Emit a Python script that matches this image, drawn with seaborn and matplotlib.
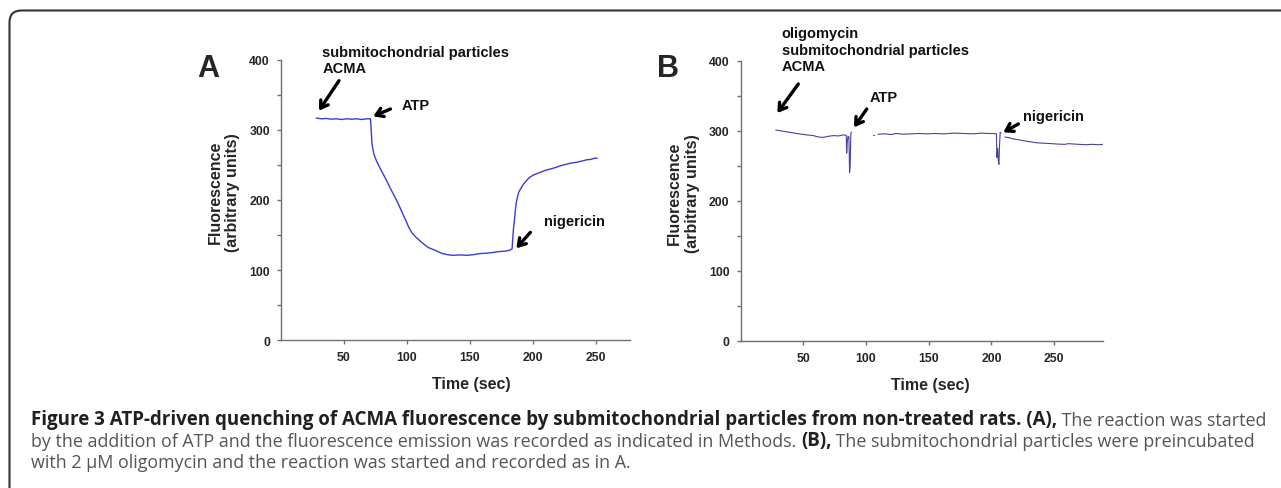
import numpy as np
import pandas as pd
import seaborn as sns
import matplotlib.pyplot as plt
import matplotlib.transforms as mtransforms
from matplotlib.patches import FancyBboxPatch

# ---- data ----
# panel A: ATP-driven quenching
time_a = [28, 32, 36, 40, 44, 48, 52, 56, 60, 64, 68, 71, 71.6, 72.2, 73.8,
          76, 79, 82, 84.3, 87, 89.6, 93, 96.2, 99, 101.4, 104, 107, 110.7,
          114, 117, 121.2, 125, 128, 131.8, 136, 142.4, 148, 153, 158.2, 163,
          168, 174.1, 178, 181, 183.4, 184.1, 184.6, 185.2, 186, 186.8, 188.6,
          190.5, 192.6, 196.5, 200, 205.8, 210, 216.3, 222, 229.6, 235, 242.8,
          246, 249.4, 251]
fluor_a = [317, 316, 316.5, 315.5, 316, 315, 316, 315.5, 316, 315, 316, 316, 300, 280, 265,
           255, 244, 234, 226, 216, 207, 195, 182, 171, 161, 153, 147, 141,
           136, 132, 129, 126, 123.5, 122, 121, 121.5, 121, 122, 123.5, 124,
           125, 126.5, 127, 128, 130, 149, 160, 170, 185, 197, 211,
           217, 223, 231, 235.5, 239.5, 242.5, 245.5, 249, 252.5, 254, 257.5,
           258, 260, 259.5]

# panel B: oligomycin pre-incubated, trace recorded in pieces
time_b1 = [28, 33, 39, 45, 52.7, 58, 62, 66, 70, 73.9, 78, 82, 84.2, 84.6, 85.0,
           85.6, 86.4, 86.9, 87.4, 87.9, 88.4]
fluor_b1 = [301, 299.5, 297.7, 296, 294, 293, 291, 290.5, 292, 293, 292.5, 294, 293.5, 268, 282,
            292, 291, 240, 250, 296, 298]
time_b2 = [105.3, 106.3]
fluor_b2 = [294, 294]
time_b3 = [109.5, 115, 120, 124, 130, 136, 142, 148, 155, 162, 170, 178, 185, 192,
           198, 202, 204, 204.4, 205, 205.5, 206, 206.5, 207, 207.5]
fluor_b3 = [295, 295.5, 294.5, 296, 295, 295.5, 296, 295.5, 296, 295.5, 296.5, 296, 295.5, 296.5,
            296, 296, 295.5, 262, 275, 257, 252, 280, 297.5, 297]
time_b4 = [210.8, 214, 218, 222, 225.4, 230, 235, 238.8, 244, 248, 252, 258, 262,
           265.3, 270, 275, 280, 285, 289]
fluor_b4 = [291, 290, 288, 287, 285.7, 284.5, 283, 282.4, 282, 281.5, 281, 280.5, 281.5,
            281, 280.5, 280, 280.5, 280, 280.5]

x_ticks = [50, 100, 150, 200, 250]
y_ticks = [0, 100, 200, 300, 400]
y_minor = [50, 150, 250, 350]

df_a = pd.DataFrame({'Time': time_a, 'Fluorescence': fluor_a})
df_b = pd.concat([
    pd.DataFrame({'Time': t, 'Fluorescence': f, 'seg': i})
    for i, (t, f) in enumerate([(time_b1, fluor_b1), (time_b2, fluor_b2),
                                (time_b3, fluor_b3), (time_b4, fluor_b4)])
], ignore_index=True)

# %%
sns.set_style("ticks")
plt.rcParams['font.family'] = ['Liberation Sans', 'DejaVu Sans']

fig = plt.figure(figsize=(12.81, 4.89), dpi=100)
ax_a = fig.add_axes([281 / 1281, 1 - 341 / 489, 349 / 1281, 280 / 489])
ax_b = fig.add_axes([740.6 / 1281, 1 - 341.7 / 489, 362.4 / 1281, 280 / 489])

sns.lineplot(data=df_a, x='Time', y='Fluorescence', ax=ax_a, estimator=None,
             sort=False, color='#3b3bd6', lw=1.0)
sns.lineplot(data=df_b, x='Time', y='Fluorescence', units='seg', ax=ax_b,
             estimator=None, sort=False, color='#45459e', lw=0.8)

for ax, xmax in [(ax_a, 277), (ax_b, 289)]:
    ax.set_xlim(0, xmax)
    ax.set_ylim(0, 400)
    ax.set_xticks(x_ticks)
    ax.set_yticks(y_ticks)
    ax.set_yticks(y_minor, minor=True)
    sns.despine(ax=ax)
    for s in ['left', 'bottom']:
        ax.spines[s].set_color('#707070')
        ax.spines[s].set_linewidth(1.0)
    ax.tick_params(axis='both', which='both', direction='out', length=3,
                   width=1, color='#707070', labelsize=8.8, pad=5)
    for lab in ax.get_xticklabels() + ax.get_yticklabels():
        lab.set_fontweight('bold')
    ax.set_xlabel('Time (sec)', fontsize=11.5, fontweight='bold')
    ax.set_ylabel('Fluorescence\n(arbitrary units)', fontsize=11.5,
                  fontweight='bold', linespacing=1.2)

ax_a.xaxis.set_label_coords(0.544, -0.13)
ax_b.xaxis.set_label_coords(0.523, -0.13)
ax_a.yaxis.set_label_coords(-0.118, 0.53)
ax_b.yaxis.set_label_coords(-0.113, 0.53)

arrow = dict(arrowstyle='->,head_length=0.5,head_width=0.32', lw=2.4,
             color='black', shrinkA=0, shrinkB=0)
ann_font = dict(fontsize=10.5, fontweight='bold', color='#111111')

# panel A notes
ax_a.text(32.8, 422, 'submitochondrial particles\nACMA', ha='left', va='top',
          linespacing=1.2, **ann_font)
ax_a.annotate('', xy=(30.1, 327.6), xytext=(46, 370.4), arrowprops=arrow,
              annotation_clip=False)
ax_a.text(95.6, 336, 'ATP', ha='left', va='center', **ann_font)
ax_a.annotate('', xy=(73.2, 319.6), xytext=(86.9, 330), arrowprops=arrow)
ax_a.text(208.4, 170, 'nigericin', ha='left', va='center', **ann_font)
ax_a.annotate('', xy=(186.8, 131), xytext=(197.9, 153.8), arrowprops=arrow)

# panel B notes
ax_b.text(32.8, 449, 'oligomycin\nsubmitochondrial particles\nACMA', ha='left',
          va='top', linespacing=1.2, **ann_font)
ax_b.annotate('', xy=(29.3, 325.3), xytext=(46, 366.7), arrowprops=arrow,
              annotation_clip=False)
ax_b.text(103.2, 347.7, 'ATP', ha='left', va='center', **ann_font)
ax_b.annotate('', xy=(90.4, 304.9), xytext=(100.6, 331), arrowprops=arrow)
ax_b.text(225.4, 321.4, 'nigericin', ha='left', va='center', **ann_font)
ax_b.annotate('', xy=(209.5, 297.7), xytext=(221.5, 309.6), arrowprops=arrow)

# panel letters
fig.text(197 / 1281, 1 - 77 / 489, 'A', fontsize=22, fontweight='bold', va='baseline')
fig.text(657 / 1281, 1 - 77 / 489, 'B', fontsize=22, fontweight='bold', va='baseline')

# rounded frame, cut by the right and bottom edges
frame = FancyBboxPatch((9.5, -30), 1320, 489 - 11.5 + 30,
                       boxstyle='round,pad=0,rounding_size=12',
                       transform=mtransforms.IdentityTransform(),
                       fill=False, ec='#333333', lw=1.5)
fig.add_artist(frame)

# caption: mixed bold / regular pieces chained on each line
cap = fig.add_axes([0, 0, 1, 1])
cap.axis('off')
cap.set_xlim(0, 1281)
cap.set_ylim(489, 0)
bold_c = '#231f20'
reg_c = '#555555'
cap_family = ['Open Sans', 'DejaVu Sans']
size_of = {'bold': 13.5, 'normal': 12.9}
lines = [
    [('Figure 3 ATP-driven quenching of ACMA fluorescence by submitochondrial particles '
      'from non-treated rats. (A),', 'bold'), (' The reaction was started', 'normal')],
    [('by the addition of ATP and the fluorescence emission was recorded as indicated in '
      'Methods. ', 'normal'), ('(B),', 'bold'),
     (' The submitochondrial particles were preincubated', 'normal')],
    [('with 2 \u00b5M oligomycin and the reaction was started and recorded as in A.', 'normal')],
]
baselines = [425, 446.7, 468.3]
for pieces, yb in zip(lines, baselines):
    prev = None
    for txt, w in pieces:
        col = bold_c if w == 'bold' else reg_c
        kw = dict(fontweight=w, color=col, family=cap_family, fontsize=size_of[w])
        if prev is None:
            prev = cap.text(31, yb, txt, va='baseline', ha='left', **kw)
        else:
            prev = cap.annotate(txt, xy=(1, 0), xycoords=prev, va='bottom',
                                ha='left', **kw)

fig.savefig('out.png', dpi=100)
